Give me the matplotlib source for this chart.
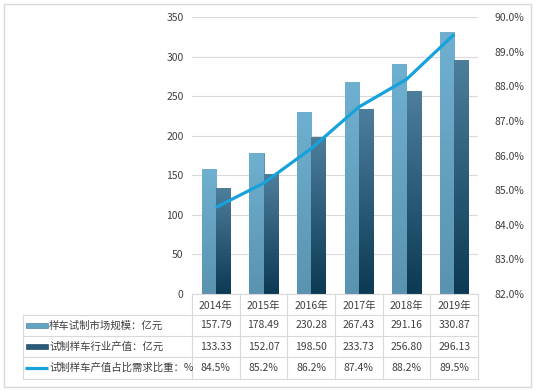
import numpy as np
import matplotlib
matplotlib.use("Agg")
import matplotlib.pyplot as plt
import matplotlib.transforms as mtrans
from matplotlib.colors import LinearSegmentedColormap
from matplotlib.patches import Rectangle

plt.rcParams['font.family'] = ['Noto Sans CJK SC', 'DejaVu Sans']

# Data
years = ["2014年", "2015年", "2016年", "2017年", "2018年", "2019年"]
market_size = [157.79, 178.49, 230.28, 267.43, 291.16, 330.87]
output_value = [133.33, 152.07, 198.50, 233.73, 256.80, 296.13]
share_pct = [84.5, 85.2, 86.2, 87.4, 88.2, 89.5]
row_labels = ["样车试制市场规模：亿元", "试制样车行业产值：亿元", "试制样车产值占比需求比重：%"]

W, H = 535, 391
fig = plt.figure(figsize=(W / 100, H / 100), dpi=100)

# overlay axes in pixel coordinates (for the table and outer frame)
ov = fig.add_axes([0, 0, 1, 1], zorder=0)
ov.set_xlim(0, W)
ov.set_ylim(H, 0)
ov.axis("off")
ov.add_patch(Rectangle((3.5, 3.5), 527, 383, facecolor="none", edgecolor="#d9d9d9", lw=1))

ax = fig.add_axes([192 / W, 1 - 294 / H, 286 / W, 277 / H], zorder=2)
ax.patch.set_alpha(0)
x = np.arange(len(years))
bw = 0.294

light_cmap = LinearSegmentedColormap.from_list("light", ["#6fb0d0", "#5a93b0"])
dark_cmap = LinearSegmentedColormap.from_list("dark", ["#4d7e9c", "#0c3a54"])

bars1 = ax.bar(x - bw / 2, market_size, bw, color="#64a3c2", edgecolor="#4f87a4", lw=0.6, zorder=2)
bars2 = ax.bar(x + bw / 2, output_value, bw, color="#2f6382", edgecolor="#2a5673", lw=0.6, zorder=2)

grad = np.linspace(0, 1, 100).reshape(-1, 1)
for bars, cmap in [(bars1, light_cmap), (bars2, dark_cmap)]:
    for b in bars:
        x0, w, h = b.get_x(), b.get_width(), b.get_height()
        im = ax.imshow(grad, cmap=cmap, extent=[x0, x0 + w, 0, h], aspect="auto",
                       origin="upper", zorder=2.5)
        im.set_clip_path(b)

ax.set_xlim(-0.5, len(years) - 0.5)
ax.set_ylim(0, 350)
ax.set_yticks(np.arange(0, 351, 50))
ax.grid(axis="y", color="#d9d9d9", lw=0.8, zorder=0)
ax.set_axisbelow(True)
for s in ["top", "right", "left"]:
    ax.spines[s].set_visible(False)
ax.spines["bottom"].set_color("#d9d9d9")
ax.set_xticks(x)
ax.set_xticklabels(years)
ax.tick_params(axis="x", length=0, pad=5, labelsize=7.5, labelcolor="#404040")
ax.tick_params(axis="y", length=0, pad=6, labelsize=7.5, labelcolor="#404040")

ax2 = ax.twinx()
ax2.plot(x, share_pct, color="#17a2dc", lw=2.3, zorder=5, solid_capstyle="butt")
ax2.set_ylim(82, 90)
ax2.set_yticks(np.arange(82, 90.1, 1))
ax2.set_yticklabels([f"{v:.1f}%" for v in np.arange(82, 90.1, 1)])
ax2.tick_params(axis="y", length=0, pad=12, labelsize=7.5, labelcolor="#404040")
for s in ax2.spines.values():
    s.set_visible(False)

# table below the plot
tr = mtrans.blended_transform_factory(ax.transData, ov.transData)
grid_c = "#d9d9d9"
row_y = [315, 336, 357, 379]
for i in range(len(years) + 1):
    ov.plot([i - 0.5, i - 0.5], [294, row_y[-1]], color=grid_c, lw=0.8, transform=tr)
ov.plot([23, 23], [row_y[0], row_y[-1]], color=grid_c, lw=0.8)
right_px = ax.transData.transform((len(years) - 0.5, 0))[0]
for yy in row_y:
    ov.plot([23, right_px], [yy, yy], color=grid_c, lw=0.8)

rows = [
    [f"{v:.2f}" for v in market_size],
    [f"{v:.2f}" for v in output_value],
    [f"{v:.1f}%" for v in share_pct],
]
for r, (label, vals) in enumerate(zip(row_labels, rows)):
    yc = (row_y[r] + row_y[r + 1]) / 2
    ov.text(49, yc, label, fontsize=7.5, color="#404040", ha="left", va="center")
    for i, v in enumerate(vals):
        ov.text(i, yc, v, fontsize=7.5, color="#404040", ha="center", va="center", transform=tr)

k0 = (row_y[0] + row_y[1]) / 2
k1 = (row_y[1] + row_y[2]) / 2
k2 = (row_y[2] + row_y[3]) / 2
ov.add_patch(Rectangle((26, k0 - 2.5), 22, 5, facecolor="#64a3c2", edgecolor="#4f87a4", lw=0.5))
ov.add_patch(Rectangle((26, k1 - 2.5), 22, 5, facecolor="#2a5a78", edgecolor="#244f6a", lw=0.5))
ov.plot([25, 48], [k2, k2], color="#17a2dc", lw=2.3, solid_capstyle="butt")

fig.savefig("out.png", dpi=100)
